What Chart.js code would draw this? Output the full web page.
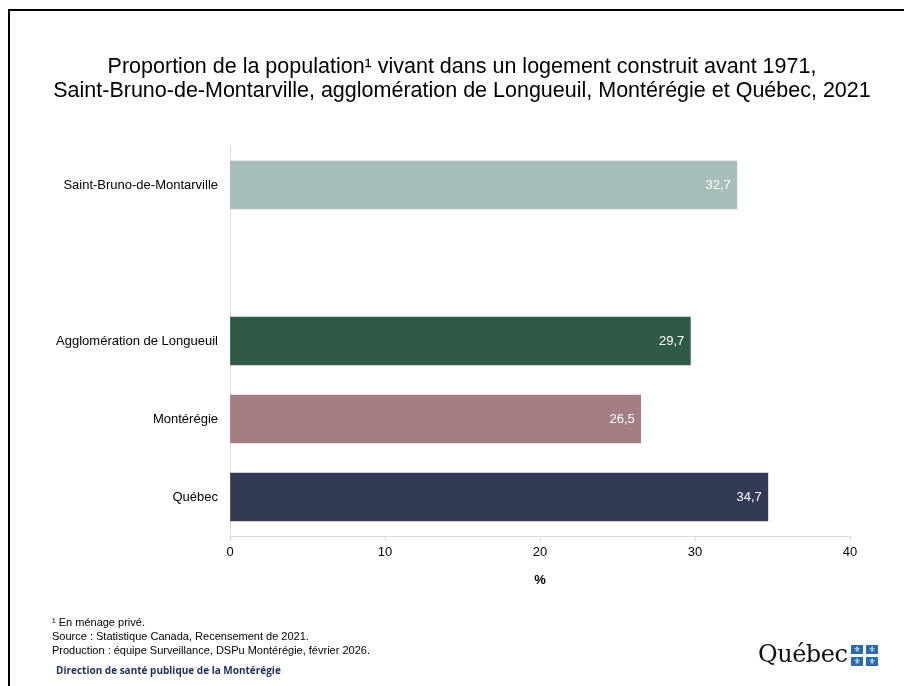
<!DOCTYPE html>
<html>
<head>
<meta charset="utf-8">
<script src="https://cdn.jsdelivr.net/npm/chart.js@4"></script>
<style>
  html, body { margin: 0; padding: 0; background: #fff; }
  #wrap { position: relative; width: 904px; height: 686px; overflow: hidden; }
  #frame { position: absolute; left: 8px; top: 9px; right: -10px; bottom: -10px; border-left: 2px solid #000; border-top: 2px solid #000; }
  canvas { position: absolute; left: 0; top: 0; }
  #title { position: absolute; left: 10px; width: 904px; top: 54px; text-align: center; font-family: "Liberation Sans", Arial, sans-serif; font-size: 21.5px; line-height: 24px; color: #000; }
  .note { position: absolute; left: 52px; font-family: "Liberation Sans", Arial, sans-serif; font-size: 11px; color: #000; line-height: 14px; }
  .dsp { position: absolute; left: 56px; top: 663px; font-family: "Open Sans", sans-serif; font-weight: bold; font-size: 10px; color: #1f2f5c; }
  .logo { position: absolute; left: 758px; top: 640px; font-family: "DejaVu Serif", "Liberation Serif", serif; font-size: 24px; color: #111; letter-spacing: -0.5px; }
  .flag { position: absolute; left: 851px; top: 645px; width: 28px; height: 22px; }
  .flag span { position: absolute; width: 12px; height: 9px; background: #2a6ab3; color: #fff; font-size: 8px; line-height: 9px; text-align: center; font-family: "DejaVu Sans", sans-serif; }
</style>
</head>
<body>
<div id="wrap">
  <canvas id="c" width="904" height="686"></canvas>
  <div id="frame"></div>
  <div id="title"></div>
  <div class="note" style="top:615px">¹ En ménage privé.</div>
  <div class="note" style="top:629px">Source : Statistique Canada, Recensement de 2021.</div>
  <div class="note" style="top:643px">Production : équipe Surveillance, DSPu Montérégie, février 2026.</div>
  <div class="dsp">Direction de santé publique de la Montérégie</div>
  <div class="logo">Québec</div>
  <div class="flag">
    <span style="left:0;top:0">⚜</span><span style="left:15px;top:0">⚜</span>
    <span style="left:0;top:12px">⚜</span><span style="left:15px;top:12px">⚜</span>
  </div>
</div>
<script>
const categories = ['Saint-Bruno-de-Montarville', '', 'Agglomération de Longueuil', 'Montérégie', 'Québec'];
const values = [32.7, null, 29.7, 26.5, 34.7];
const barColors = ['#a6bdb9', 'rgba(0,0,0,0)', '#2f5a46', '#a37f83', '#323a56'];
const xTicks = [0, 10, 20, 30, 40];
const titleLines = [
  'Proportion de la population¹ vivant dans un logement construit avant 1971,',
  'Saint-Bruno-de-Montarville, agglomération de Longueuil, Montérégie et Québec, 2021'
];
const xTitle = '%';

const titleEl = document.getElementById('title');
titleLines.forEach(t => { const d = document.createElement('div'); d.textContent = t; titleEl.appendChild(d); });

const valueLabels = {
  id: 'valueLabels',
  afterDatasetsDraw(chart) {
    const ctx = chart.ctx;
    const meta = chart.getDatasetMeta(0);
    ctx.save();
    ctx.font = '13px "Liberation Sans", Arial, sans-serif';
    ctx.fillStyle = '#ffffff';
    ctx.textAlign = 'right';
    ctx.textBaseline = 'middle';
    meta.data.forEach((bar, i) => {
      const v = values[i];
      if (v === null) return;
      ctx.fillText(v.toFixed(1).replace('.', ','), bar.x - 6, bar.y);
    });
    ctx.restore();
  }
};

new Chart(document.getElementById('c'), {
  type: 'bar',
  data: {
    labels: categories,
    datasets: [{
      data: values,
      backgroundColor: barColors,
      barThickness: 48,
      borderWidth: 0
    }]
  },
  options: {
    indexAxis: 'y',
    responsive: false,
    animation: false,
    layout: { padding: { top: 146, right: 54, bottom: 94, left: 0 } },
    plugins: {
      legend: { display: false },
      tooltip: { enabled: false },
      title: { display: false }
    },
    scales: {
      x: {
        min: 0, max: 40,
        afterBuildTicks(scale) { scale.ticks = xTicks.map(v => ({ value: v })); },
        afterFit(scale) { scale.height = 56; },
        grid: { drawOnChartArea: false, color: '#d9d9d9', tickLength: 5 },
        border: { color: '#d9d9d9', width: 1 },
        ticks: { color: '#000', font: { family: '"Liberation Sans", Arial, sans-serif', size: 13 }, padding: 4 },
        title: { display: true, text: xTitle, color: '#000', font: { family: '"Liberation Sans", Arial, sans-serif', size: 13, weight: 'bold' }, padding: { top: 4, bottom: 4 } }
      },
      y: {
        afterFit(scale) { scale.width = 230; },
        grid: { display: false },
        border: { color: '#d9d9d9', width: 1 },
        ticks: { color: '#000', font: { family: '"Liberation Sans", Arial, sans-serif', size: 13 }, padding: 4 }
      }
    }
  },
  plugins: [valueLabels]
});
</script>
</body>
</html>
